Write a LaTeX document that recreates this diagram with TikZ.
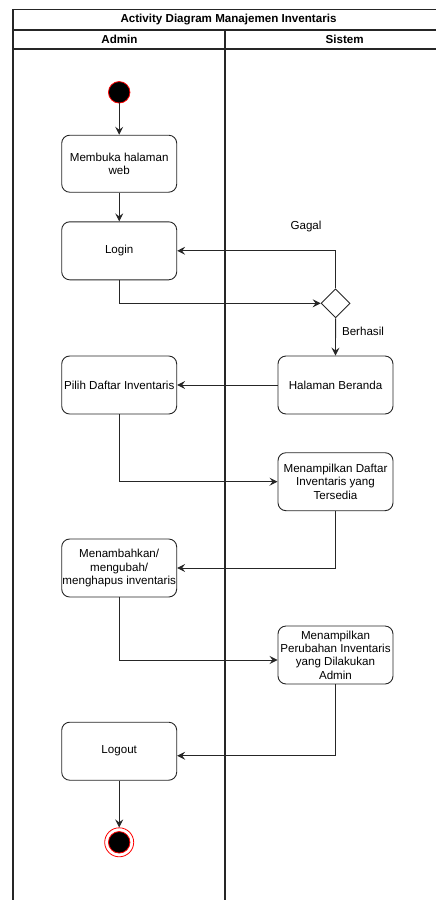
\documentclass[tikz,border=0pt]{standalone}
\usepackage{fontspec}
\setmainfont{Liberation Sans}
\usetikzlibrary{arrows.meta,shapes.geometric,calc}
\begin{document}
\begin{tikzpicture}[x=1pt,y=-1pt,
  font=\fontsize{11.6}{13.3}\selectfont,
  frame/.style={draw=black!85, line width=1.2pt},
  act/.style={draw=black!85, line width=0.9pt, rounded corners=8pt,
    minimum width=115pt, minimum height=58pt,
    inner sep=0pt, align=center},
  arr/.style={draw=black!85, line width=0.9pt, -{Stealth[length=8pt,width=8pt,inset=3pt]}},
  lbl/.style={inner sep=0pt}]
\useasboundingbox (0,0) rectangle (436,900);
% swimlane frame
\draw[frame] (460,9.5) -- (13,9.5) -- (13,910);
\draw[frame] (13,30) -- (460,30);
\draw[frame] (13,49) -- (460,49);
\draw[frame] (225,30) -- (225,910);
\node[lbl, font=\fontsize{11.6}{13.3}\selectfont\bfseries] (title) at (228.5,19.5) {Activity Diagram Manajemen Inventaris};
\node[lbl, font=\fontsize{11.6}{13.3}\selectfont\bfseries] (laneA) at (119.5,39.5) {Admin};
\node[lbl, font=\fontsize{11.6}{13.3}\selectfont\bfseries] (laneS) at (344.7,39.5) {Sistem};
% start node
\node[circle, fill=black, draw=red, line width=0.8pt, minimum size=21.5pt, inner sep=0pt] (start) at (119.2,92.3) {};
% activities
\node[act, minimum height=57pt] (buka) at (119.2,163.7) {Membuka halaman\\web};
\node[act] (login) at (119.2,250.8) {Login};
\node[diamond, draw=black!85, line width=0.9pt, minimum width=29pt, minimum height=29pt, inner sep=0pt] (cek) at (335.6,303.3) {};
\node[act] (beranda) at (335.5,385) {Halaman Beranda};
\node[act] (pilih) at (119.2,385) {Pilih Daftar Inventaris};
\node[act] (daftar) at (335.5,481.7) {Menampilkan Daftar\\Inventaris yang\\Tersedia};
\node[act] (ubah) at (119.2,568) {Menambahkan/\\mengubah/\\menghapus inventaris};
\node[act] (perubahan) at (335.5,655) {Menampilkan\\Perubahan Inventaris\\yang Dilakukan\\Admin};
\node[act] (logout) at (119.2,751.2) {Logout};
% end node
\node[circle, draw=red, line width=0.8pt, minimum size=29pt, inner sep=0pt] (end) at (119.2,842.3) {};
\node[circle, fill=black, draw=red, line width=0.8pt, minimum size=21.5pt, inner sep=0pt] (endin) at (end.center) {};
% labels
\node[lbl] (gagal) at (306,226) {Gagal};
\node[lbl] (berhasil) at (363,331.7) {Berhasil};
% flows
\draw[arr] (start) -- (buka);
\draw[arr] (buka) -- (login);
\draw[arr] (login.south) |- (cek.west);
\draw[arr] (cek.north) |- (login.east);
\draw[arr] (cek.south) -- (beranda.north);
\draw[arr] (beranda.west) -- (pilih.east);
\draw[arr] (pilih.south) |- (daftar.west);
\draw[arr] (daftar.south) |- (ubah.east);
\draw[arr] (ubah.south) |- ([yshift=-5pt]perubahan.west);
\draw[arr] (perubahan.south) |- ([yshift=-4.5pt]logout.east);
\draw[arr] (logout.south) -- (end.north);
\end{tikzpicture}
\end{document}
